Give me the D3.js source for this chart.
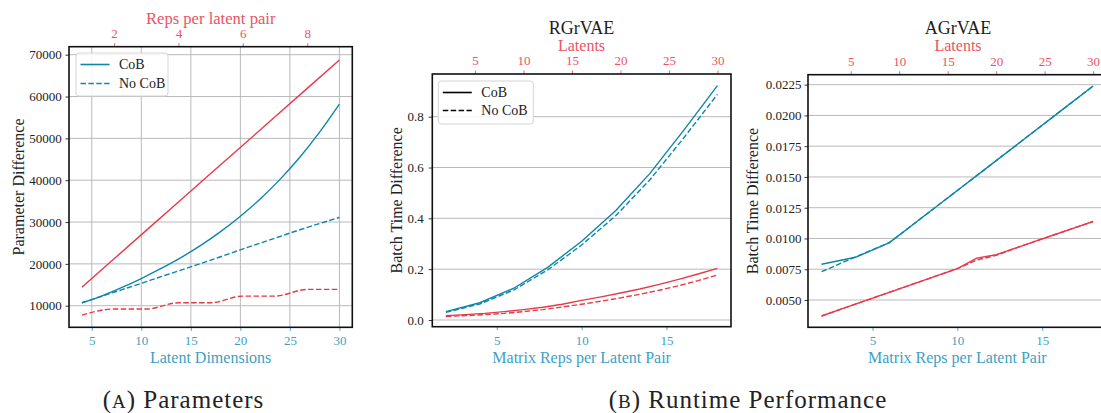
<!DOCTYPE html>
<html>
<head>
<meta charset="utf-8">
<script src="https://cdn.jsdelivr.net/npm/d3@7"></script>
<style>
  html, body { margin: 0; padding: 0; background: #fff; }
  svg { display: block; font-family: "Liberation Serif", "Times New Roman", serif; }
</style>
</head>
<body>
<svg id="chart" width="1101" height="413"></svg>
<script>
// ---------------- DATA ----------------
// (A) Parameters
const aLatents = [4, 6, 8, 10, 12, 14, 16, 18, 20, 22, 24, 26, 28, 30];
const aCobBlue = [10700, 12300, 14300, 16500, 18900, 21500, 24400, 27700, 31400, 35500, 40200, 45500, 51500, 58200];
const aNoCobBlue = [10700, 12250, 13800, 15350, 16950, 18500, 20100, 21700, 23350, 24950, 26550, 28150, 29650, 31100];
const aReps = [1, 2, 3, 4, 5, 6, 7, 8, 9];
const aCobRed = [14400, 21200, 28000, 34800, 41600, 48350, 55150, 61950, 68750];
const aNoCobRed = [7750, 9200, 9200, 10700, 10700, 12300, 12300, 13900, 13900];
const aBottomTicks = [5, 10, 15, 20, 25, 30];
const aTopTicks = [2, 4, 6, 8];
const aYTicks = [10000, 20000, 30000, 40000, 50000, 60000, 70000];

// (B) RGrVAE runtime
const bReps = [2, 4, 6, 8, 10, 12, 14, 16, 18];
const bCobBlue = [0.033, 0.068, 0.125, 0.207, 0.31, 0.43, 0.575, 0.745, 0.922];
const bNoCobBlue = [0.030, 0.063, 0.118, 0.197, 0.295, 0.41, 0.55, 0.715, 0.888];
const bLatents = [2, 4, 6, 8, 10, 12, 14, 16, 18, 20, 22, 24, 26, 28, 30];
const bCobRed = [0.017, 0.021, 0.026, 0.033, 0.041, 0.050, 0.062, 0.077, 0.091, 0.106, 0.122, 0.140, 0.160, 0.181, 0.203];
const bNoCobRed = [0.014, 0.017, 0.021, 0.026, 0.033, 0.041, 0.051, 0.062, 0.074, 0.087, 0.101, 0.117, 0.135, 0.155, 0.177];
const bBottomTicks = [5, 10, 15];
const bTopTicks = [5, 10, 15, 20, 25, 30];
const bYTicks = [0.0, 0.2, 0.4, 0.6, 0.8];

// (B) AGrVAE runtime
const cReps = [2, 4, 6, 8, 10, 12, 14, 16, 18];
const cCobBlue = [0.0079, 0.00847, 0.00966, 0.01178, 0.0139, 0.01602, 0.01814, 0.02027, 0.02239];
const cNoCobBlue = [0.0073, 0.0085, 0.00966, 0.01178, 0.0139, 0.01602, 0.01814, 0.02027, 0.02239];
const cLatents = [2, 4, 6, 8, 10, 12, 14, 16, 18, 20, 22, 24, 26, 28, 30];
const cCobRed = [0.0037, 0.00425, 0.0048, 0.00535, 0.0059, 0.00645, 0.0070, 0.00755, 0.0084, 0.00868, 0.00922, 0.00976, 0.0103, 0.01084, 0.01138];
const cNoCobRed = [0.0037, 0.00425, 0.0048, 0.00535, 0.0059, 0.00645, 0.0070, 0.00755, 0.00825, 0.00862, 0.00922, 0.00976, 0.0103, 0.01084, 0.01138];
const cBottomTicks = [5, 10, 15];
const cTopTicks = [5, 10, 15, 20, 25, 30];
const cYTicks = [0.0050, 0.0075, 0.0100, 0.0125, 0.0150, 0.0175, 0.0200, 0.0225];

// ---------------- STYLE ----------------
const BLUE = "#0e86a9";
const RED = "#e8394a";
const BLUE_TXT = "#3d9fc3";
const RED_TXT = "#eb5363";
const TXT = "#222";
const DASH = "5.5,2.4";

const svg = d3.select("#chart");

function pad(ext) { const p = 0.05 * (ext[1] - ext[0]); return [ext[0] - p, ext[1] + p]; }

function panel(cfg) {
  const g = svg.append("g");
  const { L, R, T, B } = cfg.box;
  const x = d3.scaleLinear().domain(pad(d3.extent(cfg.bx))).range([L, R]);
  const xt = d3.scaleLinear().domain(pad(d3.extent(cfg.tx))).range([L, R]);
  const y = d3.scaleLinear().domain(cfg.yDomain).range([B, T]);

  const clipId = "clip" + cfg.id;
  svg.append("clipPath").attr("id", clipId).append("rect")
    .attr("x", L).attr("y", T).attr("width", R - L).attr("height", B - T);

  // grid
  const grid = g.append("g").attr("stroke", "#b9b9b9").attr("stroke-width", 1);
  cfg.yTicks.forEach(v => grid.append("line")
    .attr("x1", L).attr("x2", R).attr("y1", y(v)).attr("y2", y(v)));
  if (cfg.vgrid) cfg.bTicks.forEach(v => grid.append("line")
    .attr("x1", x(v)).attr("x2", x(v)).attr("y1", T).attr("y2", B));

  // lines
  const lines = g.append("g").attr("clip-path", `url(#${clipId})`);
  const mk = (sx, curve) => d3.line().x(d => sx(d[0])).y(d => y(d[1])).curve(curve || d3.curveLinear);
  const zip = (a, b) => a.map((v, i) => [v, b[i]]);
  cfg.series.forEach(s => {
    lines.append("path")
      .attr("d", mk(s.top ? xt : x, s.curve)(zip(s.xs, s.ys)))
      .attr("fill", "none").attr("stroke", s.color).attr("stroke-width", 1.4)
      .attr("stroke-dasharray", s.dash ? DASH : null);
  });

  // axes
  const fs = 13;
  const axB = g.append("g").attr("transform", `translate(0,${B})`)
    .call(d3.axisBottom(x).tickValues(cfg.bTicks).tickSize(3.5).tickFormat(d3.format("d")));
  axB.attr("font-family", null);
  axB.select(".domain").remove();
  axB.selectAll("line").attr("stroke", BLUE_TXT).attr("stroke-width", 0.9);
  axB.selectAll("text").attr("fill", BLUE_TXT).attr("font-size", fs)
    .attr("y", 13.8).attr("dy", "0.33em");

  const axT = g.append("g").attr("transform", `translate(0,${T})`)
    .call(d3.axisTop(xt).tickValues(cfg.tTicks).tickSize(3.5).tickFormat(d3.format("d")));
  axT.attr("font-family", null);
  axT.select(".domain").remove();
  axT.selectAll("line").attr("stroke", RED_TXT).attr("stroke-width", 0.9);
  axT.selectAll("text").attr("fill", RED_TXT).attr("font-size", fs)
    .attr("y", -13.2).attr("dy", "0.33em");

  const axL = g.append("g").attr("transform", `translate(${L},0)`)
    .call(d3.axisLeft(y).tickValues(cfg.yTicks).tickSize(3.5).tickFormat(cfg.yFmt));
  axL.attr("font-family", null);
  axL.select(".domain").remove();
  axL.selectAll("line").attr("stroke", "#222").attr("stroke-width", 0.9);
  axL.selectAll("text").attr("fill", TXT).attr("font-size", fs)
    .attr("x", -cfg.yLabPad).attr("dy", "0.33em");

  // frame
  g.append("rect").attr("x", L).attr("y", T).attr("width", R - L).attr("height", B - T)
    .attr("fill", "none").attr("stroke", "#111").attr("stroke-width", 1.6);

  // labels
  g.append("text").text(cfg.xLabel).attr("x", (L + Math.min(R, 1109)) / 2).attr("y", 362.5)
    .attr("text-anchor", "middle").attr("font-size", 16).attr("fill", BLUE_TXT);
  g.append("text").text(cfg.topLabel).attr("x", cfg.topLabX).attr("y", cfg.topLabY)
    .attr("text-anchor", "middle").attr("font-size", cfg.topLabSize || 16).attr("fill", RED_TXT);
  g.append("text").text(cfg.yLabel)
    .attr("transform", `translate(${cfg.yLabX},${(T + B) / 2}) rotate(-90)`)
    .attr("dy", "0.35em").attr("text-anchor", "middle").attr("font-size", 16).attr("fill", TXT);
  if (cfg.title) g.append("text").text(cfg.title).attr("x", cfg.topLabX).attr("y", 34)
    .attr("text-anchor", "middle").attr("font-size", 18).attr("fill", "#1e1e1e");

  // legend
  if (cfg.legend) {
    const lg = cfg.legend;
    const lgG = g.append("g");
    lgG.append("rect").attr("x", lg.x).attr("y", lg.y).attr("width", lg.w).attr("height", lg.h)
      .attr("rx", 3).attr("fill", "#fff").attr("fill-opacity", 0.85)
      .attr("stroke", "#d4d4d4").attr("stroke-width", 1);
    lg.items.forEach((it, i) => {
      const yy = lg.y + 11.5 + i * lg.gap;
      lgG.append("line").attr("x1", lg.x + 4.5).attr("x2", lg.x + 33.5).attr("y1", yy).attr("y2", yy)
        .attr("stroke", lg.color).attr("stroke-width", 1.6)
        .attr("stroke-dasharray", it.dash ? DASH : null);
      lgG.append("text").text(it.label).attr("x", lg.x + 43).attr("y", yy).attr("dy", "0.33em")
        .attr("font-size", 14).attr("fill", TXT);
    });
  }
}

panel({
  id: "A", box: { L: 69, R: 352.3, T: 46.7, B: 327.3 },
  bx: aLatents, tx: aReps, yDomain: [4836, 71912],
  bTicks: aBottomTicks, tTicks: aTopTicks, yTicks: aYTicks, yFmt: d3.format("d"), yLabPad: 7.3,
  vgrid: true,
  series: [
    { xs: aReps, ys: aCobRed, color: RED, top: true },
    { xs: aReps, ys: aNoCobRed, color: RED, top: true, dash: true, curve: d3.curveMonotoneX },
    { xs: aLatents, ys: aCobBlue, color: BLUE, curve: d3.curveMonotoneX },
    { xs: aLatents, ys: aNoCobBlue, color: BLUE, dash: true, curve: d3.curveMonotoneX }
  ],
  xLabel: "Latent Dimensions", topLabel: "Reps per latent pair", topLabX: 210.7, topLabY: 23.5, topLabSize: 16.6,
  yLabel: "Parameter Difference", yLabX: 18,
  legend: { x: 76, y: 53, w: 92, h: 43, gap: 19, color: BLUE,
    items: [{ label: "CoB" }, { label: "No CoB", dash: true }] }
});

panel({
  id: "B", box: { L: 432.3, R: 731, T: 74, B: 326.7 },
  bx: bReps, tx: bLatents, yDomain: [-0.0264, 0.968],
  bTicks: bBottomTicks, tTicks: bTopTicks, yTicks: bYTicks, yFmt: d3.format(".1f"), yLabPad: 8.5,
  vgrid: false,
  series: [
    { xs: bLatents, ys: bCobRed, color: RED, top: true },
    { xs: bLatents, ys: bNoCobRed, color: RED, top: true, dash: true },
    { xs: bReps, ys: bCobBlue, color: BLUE },
    { xs: bReps, ys: bNoCobBlue, color: BLUE, dash: true }
  ],
  xLabel: "Matrix Reps per Latent Pair", topLabel: "Latents", topLabX: 581.5, topLabY: 51,
  title: "RGrVAE",
  yLabel: "Batch Time Difference", yLabX: 396,
  legend: { x: 438.3, y: 81, w: 95, h: 43, gap: 18, color: "#000",
    items: [{ label: "CoB" }, { label: "No CoB", dash: true }] }
});

panel({
  id: "C", box: { L: 808, R: 1106.7, T: 74.7, B: 327.3 },
  bx: cReps, tx: cLatents, yDomain: [0.00278, 0.02331],
  bTicks: cBottomTicks, tTicks: cTopTicks, yTicks: cYTicks, yFmt: d3.format(".4f"), yLabPad: 6.5,
  vgrid: false,
  series: [
    { xs: cLatents, ys: cCobRed, color: RED, top: true },
    { xs: cLatents, ys: cNoCobRed, color: RED, top: true, dash: true },
    { xs: cReps, ys: cCobBlue, color: BLUE },
    { xs: cReps, ys: cNoCobBlue, color: BLUE, dash: true }
  ],
  xLabel: "Matrix Reps per Latent Pair", topLabel: "Latents", topLabX: 958, topLabY: 51,
  title: "AGrVAE",
  yLabel: "Batch Time Difference", yLabX: 752.7
});

// captions
const cap = (x, letter, rest) => {
  const t = svg.append("text").attr("x", x).attr("y", 408).attr("text-anchor", "middle")
    .attr("font-size", 25).attr("fill", "#222").attr("letter-spacing", 1.0);
  t.append("tspan").text("(");
  t.append("tspan").text(letter).attr("font-size", 19);
  t.append("tspan").text(") " + rest);
};
cap(183.5, "A", "Parameters");
cap(748, "B", "Runtime Performance");
</script>
</body>
</html>
